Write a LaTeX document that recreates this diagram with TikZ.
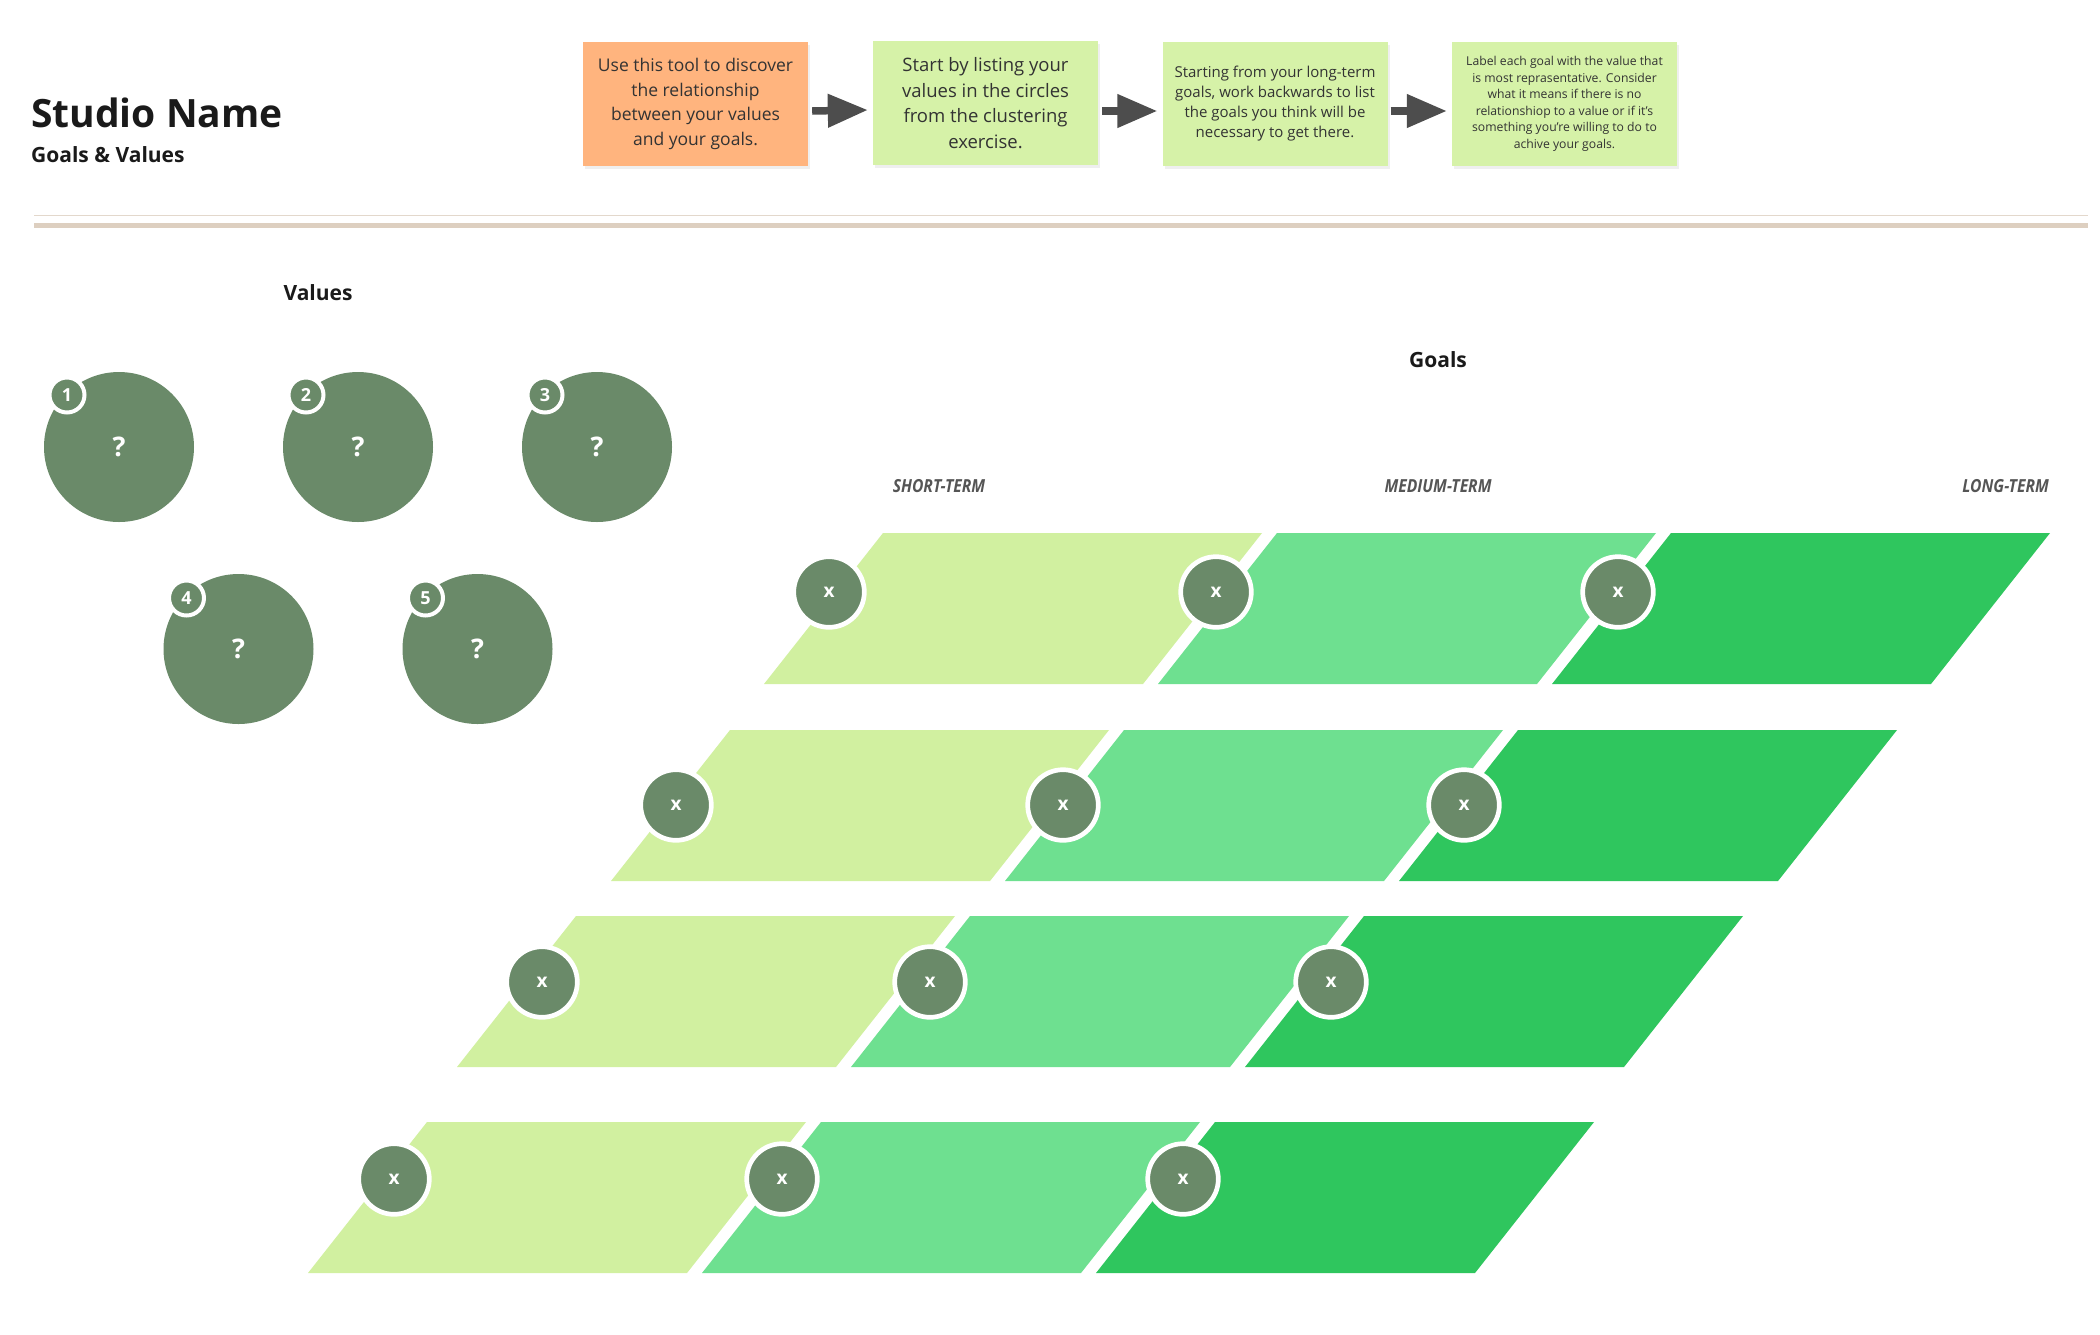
\documentclass[tikz,border=0pt]{standalone}
\usepackage{fontspec}
\setmainfont{Open Sans}
\usepackage{graphicx}
\usetikzlibrary{arrows.meta,shadows}

\definecolor{circ}{HTML}{6A8A69}
\definecolor{lightg}{HTML}{D1F0A0}
\definecolor{medg}{HTML}{6EE090}
\definecolor{darkg}{HTML}{2FC65E}
\definecolor{noteg}{HTML}{D6F2A8}
\definecolor{noteo}{HTML}{FFB47E}
\definecolor{txt}{HTML}{333333}
\definecolor{titlec}{HTML}{1A1A1A}
\definecolor{termc}{HTML}{555555}
\definecolor{arrowc}{HTML}{4D4D4D}
\definecolor{rulethick}{HTML}{DDCFC0}
\definecolor{rulethin}{HTML}{E3D8CC}

\newcommand{\fsz}[2]{\fontsize{#1}{#2}\selectfont}

\begin{document}
\begin{tikzpicture}[x=1pt,y=-1pt,
  note/.style={minimum width=225pt, minimum height=124pt, inner sep=0pt,
    align=center, text=txt,
    drop shadow={opacity=0.12, shadow xshift=2pt, shadow yshift=-3pt}},
  flowarrow/.style={arrowc, line width=7.5pt, -{Triangle[length=40pt,width=32pt]}},
  valc/.style={circle, fill=circ, minimum size=150pt, inner sep=0pt,
    text=white, font=\bfseries\fsz{27}{30}},
  badge/.style={circle, fill=circ, draw=white, line width=4pt, minimum size=35pt,
    inner sep=0pt, text=white, font=\bfseries\fsz{18}{20}},
  xc/.style={circle, fill=circ, draw=white, line width=4.7pt, minimum size=70.6pt,
    inner sep=0pt, text=white, font=\bfseries\fsz{19}{20}},
  heading/.style={font=\bfseries\fsz{21}{25}, text=titlec, inner sep=0pt},
  term/.style={font=\bfseries\itshape\fsz{18}{20}, text=termc, inner sep=0pt}
]
\useasboundingbox (0,0) rectangle (2100,1334);
\fill[white] (0,0) rectangle (2100,1334);

% title
\node[anchor=base west, inner sep=0pt, text=titlec, font=\bfseries\fsz{39}{47}] (title) at (31,127) {Studio Name};
\node[anchor=base west, inner sep=0pt, text=titlec, font=\bfseries\fsz{21}{25}] (subtitle) at (31,162) {Goals \& Values};

% rules
\draw[rulethin, line width=1.5pt] (34,215.7) -- (2088,215.7);
\draw[rulethick, line width=4.4pt] (34,225.5) -- (2088,225.5);

% instruction notes
\node[note, fill=noteo, font=\fsz{17.5}{24.5}] (b1) at (695.5,104) {Use this tool to discover\\the relationship\\between your values\\and your goals.};
\node[note, fill=noteg, font=\fsz{18.5}{25.5}] (b2) at (985.5,103) {Start by listing your\\values in the circles\\from the clustering\\exercise.};
\node[note, fill=noteg, font=\fsz{15}{20}] (b3) at (1275,104) {Starting from your long-term\\goals, work backwards to list\\the goals you think will be\\necessary to get there.};
\node[note, fill=noteg, font=\fsz{12.2}{16.5}] (b4) at (1564.5,104) {Label each goal with the value that\\is most reprasentative. Consider\\what it means if there is no\\relationshiop to a value or if it's\\something you're willing to do to\\achive your goals.};

\draw[flowarrow] ([shift={(4,7)}]b1.east) -- ([shift={(-5,7)}]b2.west);
\draw[flowarrow] ([shift={(4,8)}]b2.east) -- ([shift={(-5,7)}]b3.west);
\draw[flowarrow] ([shift={(3,7)}]b3.east) -- ([shift={(-5,7)}]b4.west);

% values
\node[heading] (values) at (318,293) {Values};
\node[valc] (v1) at (119,447) {?};
\node[valc] (v2) at (358,447) {?};
\node[valc] (v3) at (597,447) {?};
\node[valc] (v4) at (238.5,649) {?};
\node[valc] (v5) at (477.5,649) {?};
\node[badge] (n1) at ([shift={(-52,-52)}]v1.center) {1};
\node[badge] (n2) at ([shift={(-52,-52)}]v2.center) {2};
\node[badge] (n3) at ([shift={(-52,-52)}]v3.center) {3};
\node[badge] (n4) at ([shift={(-52,-51)}]v4.center) {4};
\node[badge] (n5) at ([shift={(-52,-51)}]v5.center) {5};

% goals
\node[heading] (goals) at (1438,360) {Goals};
\node[term] (short) at (939,486) {\scalebox{0.87}[1]{SHORT-TERM}};
\node[term] (medium) at (1438,486) {\scalebox{0.87}[1]{MEDIUM-TERM}};
\node[term] (long) at (2005.6,486) {\scalebox{0.87}[1]{LONG-TERM}};

\foreach \ya/\xa in {533/883,730/730,916/576,1122/427}{
  \fill[lightg] (\xa,\ya) -- ++(379,0) -- ++(-119,151) -- ++(-379,0) -- cycle;
  \fill[medg] (\xa+394,\ya) -- ++(379,0) -- ++(-119,151) -- ++(-379,0) -- cycle;
  \fill[darkg] (\xa+788,\ya) -- ++(379,0) -- ++(-119,151) -- ++(-379,0) -- cycle;
}

\node[xc] (g11) at (829,592) {x};
\node[xc] (g12) at (1216,592) {x};
\node[xc] (g13) at (1618,592) {x};
\node[xc] (g21) at (676,805) {x};
\node[xc] (g22) at (1063,805) {x};
\node[xc] (g23) at (1464,805) {x};
\node[xc] (g31) at (542,982) {x};
\node[xc] (g32) at (930,982) {x};
\node[xc] (g33) at (1331,982) {x};
\node[xc] (g41) at (394,1179) {x};
\node[xc] (g42) at (782,1179) {x};
\node[xc] (g43) at (1183,1179) {x};
\end{tikzpicture}
\end{document}
